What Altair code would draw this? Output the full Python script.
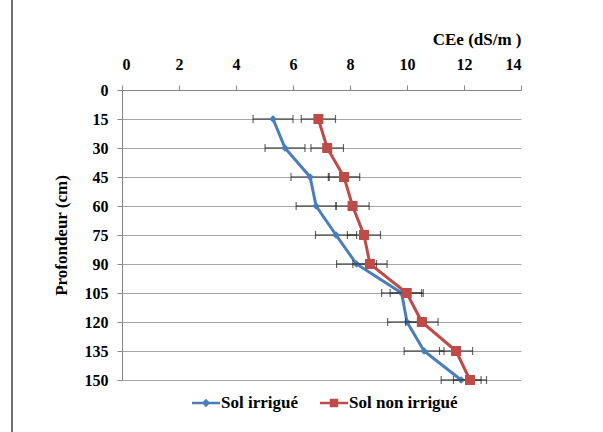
import altair as alt
import pandas as pd

depths = [15, 30, 45, 60, 75, 90, 105, 120, 135, 150]
irrigue = [5.30, 5.72, 6.60, 6.81, 7.51, 8.23, 9.81, 10.00, 10.60, 11.90]
irrigue_err = [0.70, 0.70, 0.67, 0.70, 0.72, 0.70, 0.70, 0.68, 0.70, 0.70]
non_irrigue = [6.89, 7.20, 7.79, 8.09, 8.49, 8.70, 9.99, 10.52, 11.72, 12.21]
non_irrigue_err = [0.60, 0.57, 0.55, 0.58, 0.58, 0.60, 0.58, 0.57, 0.58, 0.58]
series = ["Sol irrigué", "Sol non irrigué"]
colors = ["#4A7EBB", "#BE4B48"]
x_ticks = [0, 2, 4, 6, 8, 10, 12, 14]
y_ticks = [0, 15, 30, 45, 60, 75, 90, 105, 120, 135, 150]

rows = []
for s, vals, errs in [(series[0], irrigue, irrigue_err), (series[1], non_irrigue, non_irrigue_err)]:
    for d, v, e in zip(depths, vals, errs):
        rows.append({"serie": s, "depth": d, "value": v, "lo": v - e, "hi": v + e})
df = pd.DataFrame(rows)

FONT = "Liberation Serif"
AX_COLOR = "#868686"

x_axis = alt.Axis(orient="top", values=x_ticks, title="CEe (dS/m )", titleAnchor="end",
                  titleFont=FONT, titleFontSize=17, titleFontWeight="bold", titleColor="black",
                  titlePadding=8, labelFont=FONT, labelFontSize=16, labelFontWeight="bold",
                  labelColor="black", labelPadding=13, tickSize=5, tickColor=AX_COLOR,
                  domainColor=AX_COLOR, grid=False)
y_axis = alt.Axis(values=y_ticks, title="Profondeur (cm)", titleFont=FONT, titleFontSize=17,
                  titleFontWeight="bold", titleColor="black", titlePadding=14,
                  labelFont=FONT, labelFontSize=16, labelFontWeight="bold", labelColor="black",
                  labelPadding=9, tickSize=5, tickColor=AX_COLOR, domainColor=AX_COLOR,
                  grid=True, gridColor="#A6A6A6", gridWidth=1)

xs = alt.Scale(domain=[0, 14], nice=False)
ys = alt.Scale(domain=[0, 150], reverse=True, nice=False)

def X(field):
    return alt.X(field, type="quantitative", scale=xs, axis=x_axis, title="CEe (dS/m )")

def Y():
    return alt.Y("depth:Q", scale=ys, axis=y_axis, title="Profondeur (cm)")

base = alt.Chart(df)
layers = []
shapes = ["diamond", "square"]
sizes = [60, 100]
for s, c, sh, sz in zip(series, colors, shapes, sizes):
    sub = base.transform_filter(alt.datum.serie == s)
    layers.append(sub.mark_rule(color="#262626", strokeWidth=1.2).encode(x=X("lo"), x2="hi", y=Y()))
    layers.append(sub.mark_tick(orient="vertical", size=8, thickness=1.2, color="#262626").encode(x=X("lo"), y=Y()))
    layers.append(sub.mark_tick(orient="vertical", size=8, thickness=1.2, color="#262626").encode(x=X("hi"), y=Y()))
    layers.append(sub.mark_line(color=c, strokeWidth=3).encode(x=X("value"), y=Y(), order="depth:Q"))
    layers.append(sub.mark_point(shape=sh, filled=True, color=c, size=sz, opacity=1).encode(x=X("value"), y=Y()))

path_irr = "M-1,-0.09H1V0.09H-1Z M0,-0.3L0.3,0L0,0.3L-0.3,0Z"
path_non = "M-1,-0.09H1V0.09H-1Z M-0.3,-0.3H0.3V0.3H-0.3Z"
leg = alt.Legend(orient="none", legendX=70, legendY=299, direction="horizontal", title=None,
                 labelFont=FONT, labelFontSize=17, labelFontWeight="bold", labelColor="black",
                 symbolSize=784, symbolStrokeWidth=0, columnPadding=22, labelLimit=0, labelOffset=1)
legend_layer = base.transform_filter("datum.depth < 0").mark_point(filled=True, opacity=1).encode(
    x=X("value"), y=Y(),
    color=alt.Color("serie:N", scale=alt.Scale(domain=series, range=colors), legend=leg),
    shape=alt.Shape("serie:N", scale=alt.Scale(domain=series, range=[path_irr, path_non]), legend=leg),
)
layers.append(legend_layer)

# chart-area frame (left edge visible in the reference)
frame = alt.Chart(pd.DataFrame({"k": [0]})).mark_rule(color="#404040", strokeWidth=1.5, clip=False).encode(
    x=alt.value(-110), y=alt.value(-95), y2=alt.value(350)
)
layers.append(frame)

chart = alt.layer(*layers).properties(
    width=399, height=290,
    autosize=alt.AutoSizeParams(type="none"),
    padding={"left": 122, "top": 90, "right": 82, "bottom": 52},
    background="white",
).configure_view(stroke=None)

chart.save("out.html", embed_options={"renderer": "svg", "actions": False})
